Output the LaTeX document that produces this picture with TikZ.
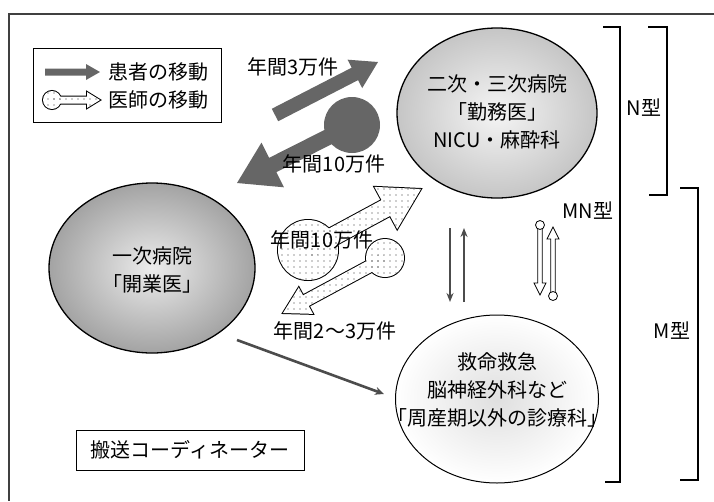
\documentclass[tikz,border=0pt]{standalone}
\usepackage{fontspec}
\setmainfont{Noto Sans CJK JP}
\usetikzlibrary{calc,shapes.geometric,patterns.meta,arrows.meta}
% fat arrow polygon: #1 options, #2 tail, #3 tip, #4 shaft half width, #5 head half width, #6 head length
\newcommand{\fatarrow}[6]{%
  \coordinate (fa-h) at ($(#3)!#6!(#2)$);
  \path[#1] ($(#2)!#4!90:(#3)$) -- ($(fa-h)!#4!90:(#3)$) -- ($(fa-h)!#5!90:(#3)$) -- (#3)
     -- ($(fa-h)!#5!-90:(#3)$) -- ($(fa-h)!#4!-90:(#3)$) -- ($(#2)!#4!-90:(#3)$) -- cycle;}
\tikzset{
  jp/.style={font=\fontsize{20}{28}\selectfont, align=center, inner sep=0pt},
  hosp/.style={ellipse, draw=black, line width=1.3pt, inner sep=0pt},
  darkfill/.style={fill=black!60},
  dotpat/.style={pattern={Dots[distance=6pt,radius=0.7pt]}, pattern color=black!80},
  bracketline/.style={draw=black, line width=1.2pt},
  boxed/.style={draw=black, line width=0.9pt, inner sep=0pt},
  thinarrow/.style={draw=black!70, line width=2.6pt, -{Stealth[length=9pt,width=8pt]}},
}
\begin{document}
\begin{tikzpicture}[x=1pt,y=-1pt]
\useasboundingbox (0,0) rectangle (714,501);
% frame
\draw[black!75, line width=1.2pt] (714,14) -- (9,14) -- (9,501);

% legend
\node[boxed, minimum width=188pt, minimum height=74pt] (legend) at (127,85) {};
\coordinate (lp1) at (45,72); \coordinate (lp2) at (100,72);
\fatarrow{darkfill}{lp1}{lp2}{3.5pt}{8pt}{14pt}
\node[jp, anchor=west] (lpt) at (108,72) {患者の移動};
\coordinate (ld1) at (52,100); \coordinate (ld2) at (100,100);
\fatarrow{draw=black, line width=2pt}{ld1}{ld2}{3.5pt}{8pt}{13pt}
\draw[black, line width=2pt] (ld1) circle (9pt);
\fatarrow{fill=white}{ld1}{ld2}{3.5pt}{8pt}{13pt}
\fill[white] (ld1) circle (9pt);
\fatarrow{dotpat}{ld1}{ld2}{3.5pt}{8pt}{13pt}
\path[dotpat] (ld1) circle (9pt);
\node[jp, anchor=west] (ldt) at (108,100) {医師の移動};

% hospitals
\node[hosp, minimum width=200pt, minimum height=170pt, inner color=gray!8, outer color=gray!45] (h2) at (497,113) {};
\node[jp] (h2t) at (497,112) {二次・三次病院\\「勤務医」\\NICU・麻酔科};
\node[hosp, minimum width=206pt, minimum height=170pt, inner color=gray!15, outer color=gray!72] (h1) at (152,268) {};
\node[jp] (h1t) at (152,270) {一次病院\\「開業医」};
\node[hosp, line width=1pt, minimum width=203pt, minimum height=168pt, inner color=gray!25, outer color=white] (h3) at (497,399) {};
\node[jp] (h3t) at (497,390) {救命救急\\脳神経外科など\\「周産期以外の診療科」};

% dark patient arrows
\coordinate (pa1) at (275,115); \coordinate (pa2) at (378,62);
\fatarrow{darkfill}{pa1}{pa2}{7pt}{16pt}{26pt}
\coordinate (pb1) at (352,125); \coordinate (pb2) at (237,183);
\fill[black!60] (pb1) circle (28pt);
\fatarrow{darkfill}{pb1}{pb2}{8pt}{25pt}{40pt}

% dotted doctor arrows
\coordinate (da1) at (308,250); \coordinate (da2) at (421,189);
\coordinate (db1) at (385,258); \coordinate (db2) at (283,313);
\fatarrow{draw=black, line width=2pt}{da1}{da2}{9pt}{24pt}{40pt}
\draw[black, line width=2pt] (da1) circle (30pt);
\fatarrow{draw=black, line width=2pt}{db1}{db2}{6pt}{15pt}{26pt}
\draw[black, line width=2pt] (db1) circle (19pt);
\fatarrow{fill=white}{da1}{da2}{9pt}{24pt}{40pt}
\fill[white] (da1) circle (30pt);
\fatarrow{fill=white}{db1}{db2}{6pt}{15pt}{26pt}
\fill[white] (db1) circle (19pt);
\fatarrow{dotpat}{da1}{da2}{9pt}{24pt}{40pt}
\path[dotpat] (da1) circle (30pt);
\fatarrow{dotpat}{db1}{db2}{6pt}{15pt}{26pt}
\path[dotpat] (db1) circle (19pt);

% labels of flows
\node[jp] (l1) at (293,67) {年間3万件};
\node[jp] (l2) at (334,164) {年間10万件};
\node[jp] (l3) at (322,240) {年間10万件};
\node[jp] (l4) at (335,331) {年間2〜3万件};

% thin patient arrow primary -> emergency
\coordinate (ta1) at (237,340); \coordinate (ta2) at (384,394);
\draw[thinarrow] (ta1) -- (ta2);

% vertical patient arrows
\coordinate (v1a) at (450,228); \coordinate (v1b) at (450,302);
\coordinate (v2a) at (464,302); \coordinate (v2b) at (464,228);
\draw[draw=black!70, line width=2.2pt, -{Stealth[length=9pt,width=7pt]}] (v1a) -- (v1b);
\draw[draw=black!70, line width=2.2pt, -{Stealth[length=9pt,width=7pt]}] (v2a) -- (v2b);

% vertical doctor arrows
\coordinate (w1a) at (540,225); \coordinate (w1b) at (540,295);
\coordinate (w2a) at (553,296); \coordinate (w2b) at (553,227);
\fatarrow{draw=black, fill=white, line width=0.8pt}{w1a}{w1b}{2.3pt}{6pt}{12pt}
\draw[black, fill=white, line width=0.8pt] (w1a) circle (4.5pt);
\fatarrow{draw=black, fill=white, line width=0.8pt}{w2a}{w2b}{2.3pt}{6pt}{12pt}
\draw[black, fill=white, line width=0.8pt] (w2a) circle (4.5pt);

% brackets
\coordinate (bn1) at (648,27); \coordinate (bn2) at (667,27);
\coordinate (bn3) at (667,195); \coordinate (bn4) at (649,195);
\draw[bracketline] (bn1) -- (bn2) -- (bn3) -- (bn4);
\coordinate (bmn1) at (603,27); \coordinate (bmn2) at (620,27);
\coordinate (bmn3) at (620,482); \coordinate (bmn4) at (605,482);
\draw[bracketline] (bmn1) -- (bmn2) -- (bmn3) -- (bmn4);
\coordinate (bm1) at (680,188); \coordinate (bm2) at (698,188);
\coordinate (bm3) at (698,480); \coordinate (bm4) at (680,480);
\draw[bracketline] (bm1) -- (bm2) -- (bm3) -- (bm4);
\node[jp] (nt) at (644,108) {N型};
\node[jp] (mnt) at (588,211) {MN型};
\node[jp] (mt) at (672,331) {M型};

% coordinator
\node[boxed, minimum width=228pt, minimum height=40pt] (coord) at (190,450) {};
\node[jp] (coordt) at (190,450) {搬送コーディネーター};
\end{tikzpicture}
\end{document}
